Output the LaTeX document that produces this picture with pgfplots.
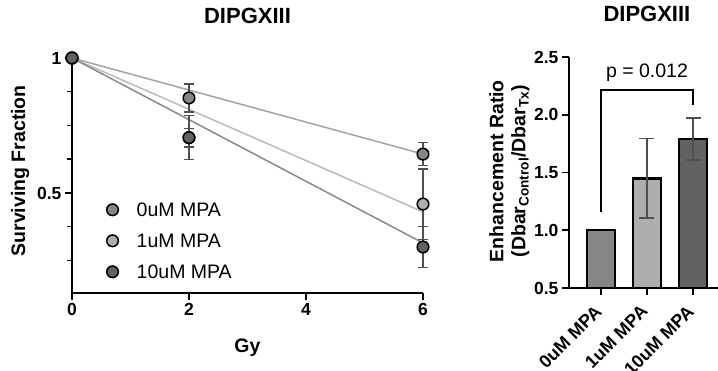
\documentclass[border=0pt]{standalone}
\usepackage{fontspec}
\setmainfont{Liberation Sans}
\usepackage{pgfplots}
\pgfplotsset{compat=1.18}
\definecolor{c0}{HTML}{868686}
\definecolor{c1}{HTML}{AEAEAE}
\definecolor{c2}{HTML}{626262}
\definecolor{l0}{HTML}{A4A4A4}
\definecolor{l1}{HTML}{BABABA}
\definecolor{l2}{HTML}{8A8A8A}
\definecolor{eb}{HTML}{505050}
\begin{document}
\begin{tikzpicture}
\useasboundingbox (0,0) rectangle (718pt,371pt);
\pgfplotsset{
  common/.style={
    scale only axis, anchor=south west,
    axis x line*=bottom, axis y line*=left,
    axis line style={line width=2pt},
    tick align=outside, major tick length=7pt, minor tick length=5pt,
    major tick style={black, line width=1.8pt},
    minor tick style={black, line width=1.5pt},
    tick label style={font=\fontsize{17.5}{20}\selectfont\bfseries},
    /pgf/number format/assume math mode=true,
    title style={font=\fontsize{22}{26}\selectfont\bfseries, anchor=center},
    label style={font=\fontsize{19.5}{22}\selectfont\bfseries},
  },
  pts/.style={only marks, mark=*, mark size=5.8pt,
    mark options={draw=black, fill=#1, line width=1.5pt},
    error bars/.cd, y dir=both, y explicit,
    error bar style={line width=1.3pt, draw=eb},
    error mark options={rotate=90, mark size=5pt, line width=1.3pt, draw=eb}},
}
\begin{axis}[common,
  at={(72pt,78pt)}, width=351pt, height=235pt,
  xmin=0, xmax=6, ymin=0.1296, ymax=1,
  xtick={0,2,4,6},
  ytick={0.5,1}, yticklabels={0.5,1},
  minor ytick={0.25,0.375,0.625,0.75,0.875},
  clip=false,
  title={DIPGXIII}, title style={at={(rel axis cs:0.5,1.153)}},
  xlabel={Gy}, xlabel style={at={(rel axis cs:0.5,-0.234)}, anchor=center},
  ylabel={Surviving Fraction}, ylabel style={at={(rel axis cs:-0.148,0.52)}, anchor=center},
  legend style={at={(rel axis cs:0.083,0.406)}, anchor=north west, draw=none, fill=none,
    font=\fontsize{19.5}{22}\selectfont, row sep=11pt,
    nodes={text height=14pt, text depth=0pt, inner sep=3pt}},
  legend cell align=left,
  legend image code/.code={\draw[#1] plot coordinates {(0pt,0pt)}; \path (-8pt,0pt) (21pt,0pt);},
]
\addplot[forget plot, draw=l0, line width=1.5pt] coordinates {(0,1) (6,0.644)};
\addplot[forget plot, draw=l1, line width=1.5pt] coordinates {(0,1) (6,0.43)};
\addplot[forget plot, draw=l2, line width=1.5pt] coordinates {(0,1) (6,0.315)};
\addplot[pts=c0] coordinates {(0,1) +- (0,0) (2,0.852) +- (0,0.052) (6,0.644) +- (0,0.042)};
\addplot[pts=c1] coordinates {(0,1) +- (0,0) (2,0.705) +- (0,0.035) (6,0.459) +- (0,0.13)};
\addplot[pts=c2] coordinates {(0,1) +- (0,0) (2,0.705) +- (0,0.082) (6,0.30) +- (0,0.075)};
\legend{0uM MPA,1uM MPA,10uM MPA}
\end{axis}
\begin{axis}[common,
  at={(569pt,83pt)}, width=149pt, height=231pt,
  xmin=-0.69, xmax=2.54, ymin=0.5, ymax=2.5,
  ytick={0.5,1,1.5,2,2.5}, yticklabels={0.5,1.0,1.5,2.0,2.5},
  xtick={0,1,2}, xticklabels={0uM MPA,1uM MPA,10uM MPA},
  xticklabel style={rotate=45, anchor=east, font=\fontsize{18}{20}\selectfont\bfseries},
  xticklabel shift=11pt,
  title={DIPGXIII}, title style={at={(rel axis cs:0.523,1.16)}},
  ylabel={Enhancement Ratio\\(Dbar\textsubscript{Control}/Dbar\textsubscript{Tx})},
  ylabel style={at={(rel axis cs:-0.40,0.506)}, anchor=center, align=center},
  ybar, bar width=28pt,
]
\addplot[ybar, bar shift=0pt, fill=c0, draw=black, line width=2.5pt] coordinates {(0,1)};
\addplot[ybar, bar shift=0pt, fill=c1, draw=black, line width=2.5pt,
  error bars/.cd, y dir=both, y explicit,
  error bar style={line width=1.5pt, draw=eb},
  error mark options={rotate=90, mark size=7.5pt, line width=1.5pt, draw=eb}]
  coordinates {(1,1.449) +- (0,0.345)};
\addplot[ybar, bar shift=0pt, fill=c2, draw=black, line width=2.5pt,
  error bars/.cd, y dir=both, y explicit,
  error bar style={line width=1.5pt, draw=eb},
  error mark options={rotate=90, mark size=7.5pt, line width=1.5pt, draw=eb}]
  coordinates {(2,1.79) +- (0,0.18)};
\draw[line width=1.8pt] (axis cs:0,1.16) -- (axis cs:0,2.215) -- (axis cs:2,2.215) -- (axis cs:2,2.086);
\node[font=\fontsize{19.5}{22}\selectfont] at (axis cs:1,2.362) {p = 0.012};
\end{axis}
\end{tikzpicture}
\end{document}
